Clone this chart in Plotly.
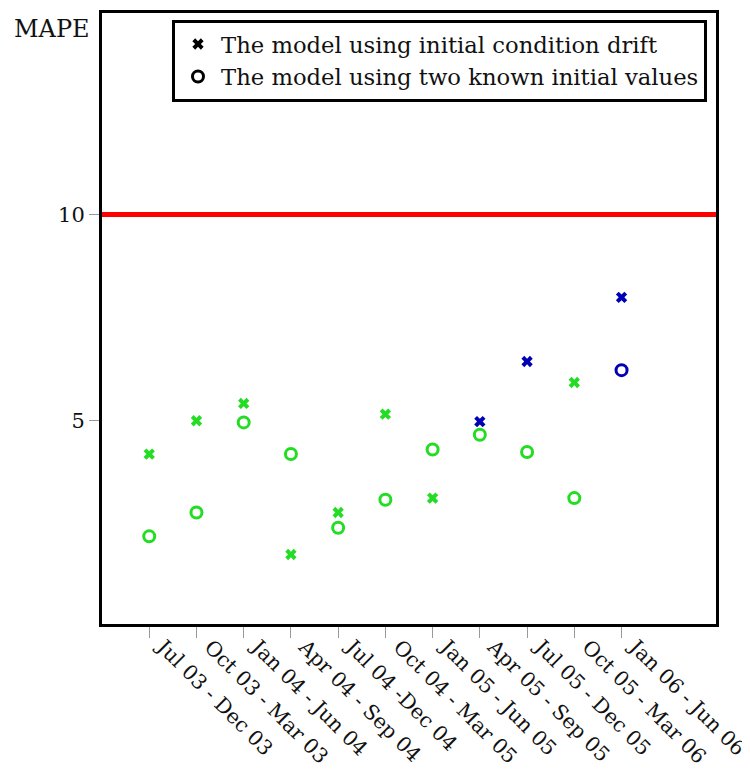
import plotly.graph_objects as go

periods = ["Jul 03 - Dec 03", "Oct 03 - Mar 03", "Jan 04 - Jun 04", "Apr 04 - Sep 04",
           "Jul 04 -Dec 04", "Oct 04 - Mar 05", "Jan 05 - Jun 05", "Apr 05 - Sep 05",
           "Jul 05 - Dec 05", "Oct 05 - Mar 06", "Jan 06 - Jun 06"]
mape_drift = [4.18, 4.99, 5.41, 1.74, 2.76, 5.15, 3.11, 4.97, 6.43, 5.92, 7.99]
mape_two_known = [2.18, 2.76, 4.95, 4.18, 2.39, 3.07, 4.29, 4.65, 4.23, 3.11, 6.22]
# 1 = highlighted (blue) point, 0 = normal (green) point
drift_flag = [0, 0, 0, 0, 0, 0, 0, 1, 1, 0, 1]
two_known_flag = [0, 0, 0, 0, 0, 0, 0, 0, 0, 0, 1]
threshold = 10
y_ticks = [5, 10]

GREEN = "#22dd22"
BLUE = "#0000b4"
SERIF = "DejaVu Serif"
TXT = "#111"

def colors(flags):
    return [BLUE if f else GREEN for f in flags]

fig = go.Figure()

fig.add_trace(go.Scatter(
    x=periods, y=mape_drift, mode="markers", showlegend=False,
    marker=dict(symbol="x", size=10, color=colors(drift_flag), line=dict(width=0)),
))
fig.add_trace(go.Scatter(
    x=periods, y=mape_two_known, mode="markers", showlegend=False,
    marker=dict(symbol="circle-open", size=11, color=colors(two_known_flag),
                line=dict(width=3, color=colors(two_known_flag))),
))
# legend entries (black symbols)
fig.add_trace(go.Scatter(
    x=[None], y=[None], mode="markers", name="The model using initial condition drift",
    marker=dict(symbol="x", size=10, color="black", line=dict(width=0)),
))
fig.add_trace(go.Scatter(
    x=[None], y=[None], mode="markers", name="The model using two known initial values",
    marker=dict(symbol="circle-open", size=11, color="black", line=dict(width=3, color="black")),
))

fig.add_shape(type="line", xref="paper", yref="y", x0=0, x1=1, y0=threshold, y1=threshold,
              line=dict(color="#ff0000", width=5), layer="above")

fig.add_annotation(text="MAPE", xref="paper", yref="paper", x=-0.016, y=0.974,
                   xanchor="right", yanchor="middle", showarrow=False,
                   font=dict(family=SERIF, size=24, color=TXT))

fig.update_layout(
    width=750, height=773,
    margin=dict(l=94, r=42, t=2, b=157),
    plot_bgcolor="white", paper_bgcolor="white",
    font=dict(family=SERIF, size=20, color=TXT),
    showlegend=True,
    legend=dict(x=0.114, y=0.989, xanchor="left", yanchor="top",
                bordercolor="black", borderwidth=3, bgcolor="white",
                font=dict(family=SERIF, size=22.7, color=TXT),
                itemwidth=36, tracegroupgap=0),
)
fig.update_xaxes(
    type="category", range=[-1, 12], showgrid=False, zeroline=False,
    showline=True, linecolor="black", linewidth=3, mirror=True,
    ticks="outside", ticklen=11, tickwidth=1, tickcolor="#999",
    tickangle=45, tickfont=dict(family=SERIF, size=20.5, color=TXT),
    ticklabelshift=14, ticklabelstandoff=-11,
)
fig.update_yaxes(
    range=[0.05, 14.9], showgrid=False, zeroline=False,
    showline=True, linecolor="black", linewidth=3, mirror=True,
    tickvals=y_ticks, ticks="outside", ticklen=10, tickwidth=1, tickcolor="#999",
    tickfont=dict(family=SERIF, size=21, color=TXT),
)

fig.write_html("out.html")
